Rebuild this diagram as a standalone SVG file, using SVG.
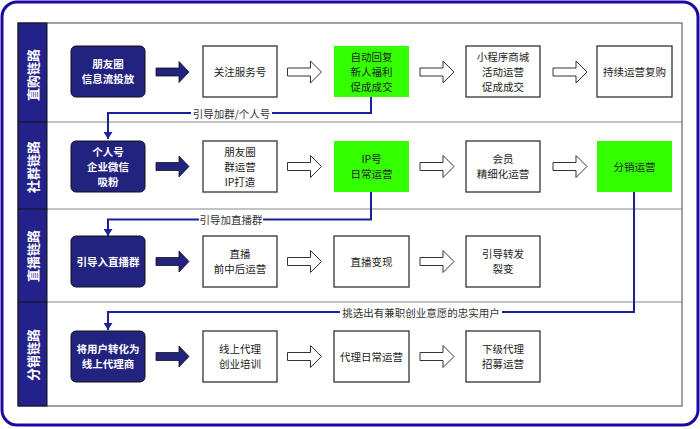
<svg xmlns="http://www.w3.org/2000/svg" width="700" height="429" viewBox="0 0 700 429">
<defs>
<style>
.t{font-family:"Noto Sans CJK SC","Liberation Sans",sans-serif;font-size:10.5px;text-anchor:middle;fill:#222;}
.w{fill:#fff;font-weight:bold;}
.lane{font-family:"Noto Sans CJK SC","Liberation Sans",sans-serif;font-size:13px;font-weight:bold;fill:#fff;text-anchor:middle;dominant-baseline:central;}
.lbl{font-family:"Noto Sans CJK SC","Liberation Sans",sans-serif;font-size:10.5px;fill:#333;text-anchor:middle;dominant-baseline:central;}
.dark{fill:#22227f;stroke:#111;stroke-width:1;}
.white{fill:#fff;stroke:#333;stroke-width:1.3;}
.green{fill:#33ff00;}
.sa{fill:#22227f;stroke:#111;stroke-width:0.8;}
.ha{fill:#fff;stroke:#333;stroke-width:1;}
.con{fill:none;stroke:#1f1f99;stroke-width:2;}
.bg{fill:#fff;}
</style>
<marker id="ah" markerWidth="9" markerHeight="8" refX="4.5" refY="7" orient="0" markerUnits="userSpaceOnUse">
<path d="M0,0 L9,0 L4.5,7 Z" fill="#1f1f99"/>
</marker>
<path id="solid" d="M0,-4 H23 V-10.5 L33,0 L23,10.5 V4 H0 Z"/>
<path id="hollow" d="M0,-4 H23 V-11 L34,0 L23,11 V4 H0 Z"/>
</defs>
<rect x="2" y="2" width="696" height="423" rx="15" fill="#fff" stroke="#1a0aa0" stroke-width="3"/>
<g id="table">
<rect x="18" y="23" width="664" height="383" fill="#fff" stroke="#444" stroke-width="1"/>
<line x1="47" y1="122" x2="682" y2="122" stroke="#888" stroke-width="1"/>
<line x1="47" y1="209" x2="682" y2="209" stroke="#888" stroke-width="1"/>
<line x1="47" y1="302" x2="682" y2="302" stroke="#888" stroke-width="1"/>
<rect x="18" y="23" width="29" height="383" fill="#22228a" stroke="#111" stroke-width="1"/>
<line x1="18" y1="122" x2="47" y2="122" stroke="#111" stroke-width="1"/>
<line x1="18" y1="209" x2="47" y2="209" stroke="#111" stroke-width="1"/>
<line x1="18" y1="302" x2="47" y2="302" stroke="#111" stroke-width="1"/>
<text class="lane" transform="translate(32.5,75) rotate(-90)">直购链路</text>
<text class="lane" transform="translate(32.5,167) rotate(-90)">社群链路</text>
<text class="lane" transform="translate(32.5,256) rotate(-90)">直播链路</text>
<text class="lane" transform="translate(32.5,355) rotate(-90)">分销链路</text>
</g>
<g id="connectors">
<path class="con" d="M371,97 V113 H108 V139" marker-end="url(#ah)"/>
<path class="con" d="M371,192 V219.5 H108 V236" marker-end="url(#ah)"/>
<path class="con" d="M634,192 V312 H108 V330" marker-end="url(#ah)"/>
<rect class="bg" x="191" y="106" width="81" height="14"/>
<text class="lbl" x="231.5" y="113">引导加群/个人号</text>
<rect class="bg" x="199" y="212" width="64" height="14"/>
<text class="lbl" x="231" y="219">引导加直播群</text>
<rect class="bg" x="340" y="305" width="162" height="14"/>
<text class="lbl" x="421" y="312">挑选出有兼职创业意愿的忠实用户</text>
</g>
<g id="arrows">
<use href="#solid" class="sa" x="156" y="72"/>
<use href="#hollow" class="ha" x="287.5" y="72"/>
<use href="#hollow" class="ha" x="420" y="72"/>
<use href="#hollow" class="ha" x="553" y="72"/>
<use href="#solid" class="sa" x="156" y="166.5"/>
<use href="#hollow" class="ha" x="287.5" y="166.5"/>
<use href="#hollow" class="ha" x="420" y="166.5"/>
<use href="#hollow" class="ha" x="553" y="166.5"/>
<use href="#solid" class="sa" x="156" y="261.5"/>
<use href="#hollow" class="ha" x="287.5" y="261.5"/>
<use href="#hollow" class="ha" x="420" y="261.5"/>
<use href="#solid" class="sa" x="156" y="356.5"/>
<use href="#hollow" class="ha" x="287.5" y="356.5"/>
<use href="#hollow" class="ha" x="420" y="356.5"/>
</g>
<g id="r1n1"><rect class="dark" x="71" y="46" width="74" height="51" rx="5"/><text class="t w" x="108" y="68">朋友圈</text><text class="t w" x="108" y="83">信息流投放</text></g>
<g id="r1n2"><rect class="white" x="203" y="46" width="74" height="51"/><text class="t" x="240" y="75.5">关注服务号</text></g>
<g id="r1n3"><rect class="green" x="334" y="46" width="75" height="51"/><text class="t" x="371.5" y="60.5">自动回复</text><text class="t" x="371.5" y="75.5">新人福利</text><text class="t" x="371.5" y="90.5">促成成交</text></g>
<g id="r1n4"><rect class="white" x="466" y="46" width="74" height="51"/><text class="t" x="503" y="60.5">小程序商城</text><text class="t" x="503" y="75.5">活动运营</text><text class="t" x="503" y="90.5">促成成交</text></g>
<g id="r1n5"><rect class="white" x="597" y="46" width="75" height="51"/><text class="t" x="634.5" y="75.5">持续运营复购</text></g>
<g id="r2n1"><rect class="dark" x="71" y="141" width="74" height="51" rx="5"/><text class="t w" x="108" y="155.5">个人号</text><text class="t w" x="108" y="170.5">企业微信</text><text class="t w" x="108" y="185.5">吸粉</text></g>
<g id="r2n2"><rect class="white" x="203" y="141" width="74" height="51"/><text class="t" x="240" y="155.5">朋友圈</text><text class="t" x="240" y="170.5">群运营</text><text class="t" x="240" y="185.5">IP打造</text></g>
<g id="r2n3"><rect class="green" x="334" y="141" width="75" height="51"/><text class="t" x="371.5" y="163">IP号</text><text class="t" x="371.5" y="178">日常运营</text></g>
<g id="r2n4"><rect class="white" x="466" y="141" width="74" height="51"/><text class="t" x="503" y="163">会员</text><text class="t" x="503" y="178">精细化运营</text></g>
<g id="r2n5"><rect class="green" x="597" y="141" width="75" height="51"/><text class="t" x="634.5" y="170.5">分销运营</text></g>
<g id="r3n1"><rect class="dark" x="71" y="236" width="74" height="51" rx="5"/><text class="t w" x="108" y="265.5">引导入直播群</text></g>
<g id="r3n2"><rect class="white" x="203" y="236" width="74" height="51"/><text class="t" x="240" y="258">直播</text><text class="t" x="240" y="273">前中后运营</text></g>
<g id="r3n3"><rect class="white" x="334" y="236" width="75" height="51"/><text class="t" x="371.5" y="265.5">直播变现</text></g>
<g id="r3n4"><rect class="white" x="466" y="236" width="74" height="51"/><text class="t" x="503" y="258">引导转发</text><text class="t" x="503" y="273">裂变</text></g>
<g id="r4n1"><rect class="dark" x="71" y="331" width="74" height="51" rx="5"/><text class="t w" x="108" y="353">将用户转化为</text><text class="t w" x="108" y="368">线上代理商</text></g>
<g id="r4n2"><rect class="white" x="203" y="331" width="74" height="51"/><text class="t" x="240" y="353">线上代理</text><text class="t" x="240" y="368">创业培训</text></g>
<g id="r4n3"><rect class="white" x="334" y="331" width="75" height="51"/><text class="t" x="371.5" y="360.5">代理日常运营</text></g>
<g id="r4n4"><rect class="white" x="466" y="331" width="74" height="51"/><text class="t" x="503" y="353">下级代理</text><text class="t" x="503" y="368">招募运营</text></g>
</svg>
